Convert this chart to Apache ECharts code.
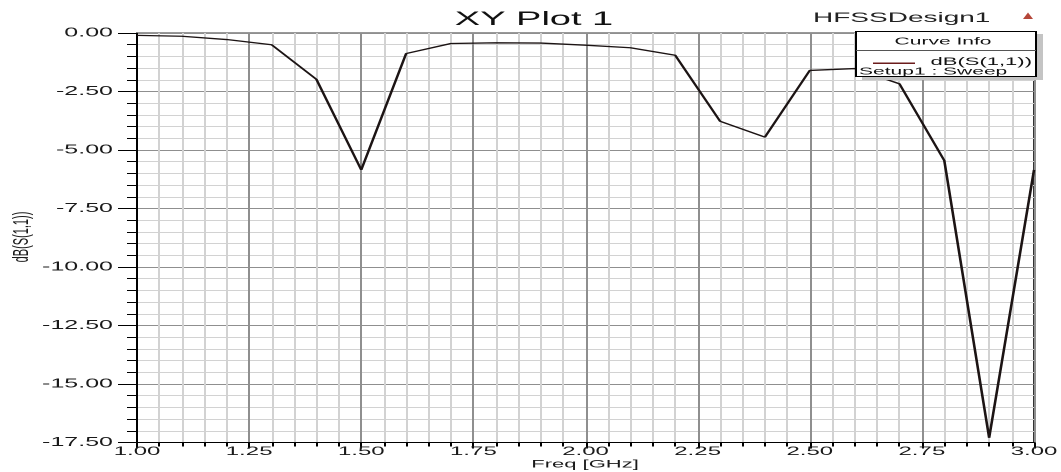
<!DOCTYPE html>
<html>
<head>
<meta charset="utf-8">
<script src="https://cdn.jsdelivr.net/npm/echarts@6/dist/echarts.min.js"></script>
<style>
html,body{margin:0;padding:0;background:#fff;overflow:hidden;}
#wrap{width:1061px;height:472px;overflow:hidden;position:relative;}
#chart{width:530.5px;height:472px;transform:scaleX(2);transform-origin:0 0;}
</style>
</head>
<body>
<div id="wrap"><div id="chart"></div></div>
<script>
// Frequency samples (GHz)
const freqGHz = [1.0, 1.1, 1.2, 1.3, 1.4, 1.5, 1.6, 1.7, 1.8, 1.9, 2.0,
                 2.1, 2.2, 2.3, 2.4, 2.5, 2.6, 2.7, 2.8, 2.9, 3.0];
// dB(S(1,1)) values
const dBS11 = [-0.10, -0.14, -0.28, -0.50, -1.98, -5.85, -0.88, -0.45, -0.42, -0.43, -0.52,
               -0.63, -0.95, -3.77, -4.45, -1.60, -1.52, -2.17, -5.45, -17.30, -5.85];
// Axis ranges / tick spacing
const xRange = [1.0, 3.0];
const xStep = 0.25;
const yRange = [-17.5, 0.0];
const yStep = 2.5;
// Texts
const plotTitle = 'XY Plot 1';
const designName = 'HFSSDesign1';
const xName = 'Freq [GHz]';
const yName = 'dB(S(1,1))';
const legendHeader = 'Curve Info';
const legendTrace = 'dB(S(1,1))';
const legendSetup = 'Setup1 : Sweep';

const FONT = '"Liberation Sans", Arial, sans-serif';
const chart = echarts.init(document.getElementById('chart'), null, {devicePixelRatio: 2});

const option = {
  animation: false,
  backgroundColor: '#ffffff',
  grid: {
    left: 68.5, right: 14, top: 33, bottom: 29.5,
    show: true, borderColor: '#333', borderWidth: 1,
    containLabel: false, outerBoundsMode: 'none'
  },
  xAxis: {
    type: 'value', min: xRange[0], max: xRange[1], interval: xStep,
    axisLine: {show: true, onZero: false, lineStyle: {color: '#000', width: 1}},
    axisTick: {show: true, inside: false, length: 6, lineStyle: {color: '#000'}},
    minorTick: {show: true, splitNumber: 5, length: 4, lineStyle: {color: '#000'}},
    axisLabel: {fontFamily: FONT, fontSize: 12, color: '#1a1a1a', margin: 3,
                formatter: v => v.toFixed(2), showMinLabel: true, showMaxLabel: true},
    splitLine: {show: true, lineStyle: {color: '#8f8f8f', width: 1}},
    minorSplitLine: {show: true, lineStyle: {color: '#d2d2d2', width: 1}}
  },
  yAxis: {
    type: 'value', min: yRange[0], max: yRange[1], interval: yStep,
    axisLine: {show: true, onZero: false, lineStyle: {color: '#000', width: 1}},
    axisTick: {show: true, inside: false, length: 9.5, lineStyle: {color: '#000'}},
    minorTick: {show: true, splitNumber: 5, length: 5, lineStyle: {color: '#000'}},
    axisLabel: {fontFamily: FONT, fontSize: 12.5, color: '#1a1a1a', margin: 12,
                formatter: v => v.toFixed(2), showMinLabel: true, showMaxLabel: true},
    splitLine: {show: true, lineStyle: {color: '#8f8f8f', width: 1}},
    minorSplitLine: {show: true, lineStyle: {color: '#d2d2d2', width: 1}}
  },
  series: [{
    name: legendTrace,
    type: 'line',
    data: freqGHz.map((f, i) => [f, dBS11[i]]),
    symbol: 'none',
    lineStyle: {color: '#1c1414', width: 1.3},
    z: 5
  }],
  graphic: [
    {type: 'text', x: 267, y: 19.7, z: 20,
     style: {text: plotTitle, fontFamily: FONT, fontSize: 19, fill: '#111', align: 'center', verticalAlign: 'middle'}},
    {type: 'text', x: 406.5, y: 18.3, z: 20,
     style: {text: designName, fontFamily: FONT, fontSize: 14, fill: '#222', align: 'left', verticalAlign: 'middle'}},
    {type: 'text', x: 292.5, y: 464.5, z: 20,
     style: {text: xName, fontFamily: FONT, fontSize: 11, fill: '#1a1a1a', align: 'center', verticalAlign: 'middle'}},
    {type: 'text', x: 11, y: 237, rotation: Math.PI / 2, z: 20,
     style: {text: yName, fontFamily: FONT, fontSize: 11, fill: '#1a1a1a', align: 'center', verticalAlign: 'middle'}},
    {type: 'polygon', z: 20,
     shape: {points: [[511.5, 19], [514, 12.5], [516.5, 19]]},
     style: {fill: '#b5473a'}},
    // legend box shadow
    {type: 'rect', z: 18, shape: {x: 518, y: 34, width: 3.5, height: 46},
     style: {fill: '#c4c4c4'}},
    {type: 'rect', z: 18, shape: {x: 431, y: 76.5, width: 90.5, height: 3.5},
     style: {fill: '#c4c4c4'}},
    // legend box
    {type: 'rect', z: 19, shape: {x: 428, y: 31.5, width: 90, height: 45},
     style: {fill: '#ffffff', stroke: '#000', lineWidth: 1}},
    {type: 'line', z: 20, shape: {x1: 428, y1: 50.5, x2: 518, y2: 50.5},
     style: {stroke: '#555', lineWidth: 1}},
    {type: 'text', x: 471.5, y: 41.7, z: 20,
     style: {text: legendHeader, fontFamily: FONT, fontSize: 10.5, fill: '#111', align: 'center', verticalAlign: 'middle'}},
    {type: 'line', z: 20, shape: {x1: 436.5, y1: 63.3, x2: 457.5, y2: 63.3},
     style: {stroke: '#6b1c1c', lineWidth: 1.5}},
    {type: 'text', x: 516, y: 62, z: 20,
     style: {text: legendTrace, fontFamily: FONT, fontSize: 11, fill: '#111', align: 'right', verticalAlign: 'middle'}},
    {type: 'text', x: 429.5, y: 71.5, z: 20,
     style: {text: legendSetup, fontFamily: FONT, fontSize: 10.5, fill: '#111', align: 'left', verticalAlign: 'middle'}}
  ]
};
chart.setOption(option);
</script>
</body>
</html>
